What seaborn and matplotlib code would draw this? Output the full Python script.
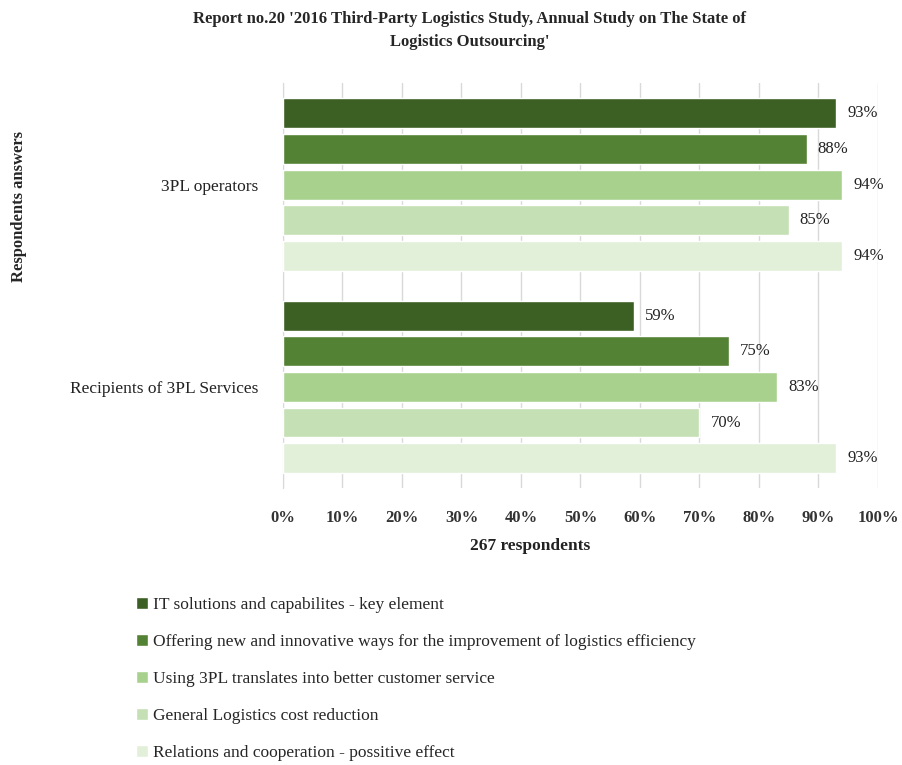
import pandas as pd
import seaborn as sns
import matplotlib.pyplot as plt

groups = ["3PL operators", "Recipients of 3PL Services"]
answers = [
    "IT solutions and capabilites - key element",
    "Offering new and innovative ways for the improvement of logistics efficiency",
    "Using 3PL translates into better customer service",
    "General Logistics cost reduction",
    "Relations and cooperation - possitive effect",
]
operators_pct = [93, 88, 94, 85, 94]
recipients_pct = [59, 75, 83, 70, 93]
colors = ["#3c5f24", "#548235", "#a9d18e", "#c5e0b4", "#e2f0d9"]
xticks = list(range(0, 101, 10))

df = pd.DataFrame({
    "Group": [groups[0]] * 5 + [groups[1]] * 5,
    "Answer": answers * 2,
    "Percent": operators_pct + recipients_pct,
})

sns.set_style("white")
plt.rcParams["font.family"] = ["Liberation Serif", "DejaVu Serif"]

fig = plt.figure(figsize=(9.02, 7.65), dpi=100)
ax = fig.add_axes([0.3137, 0.362, 0.6596, 0.529])

sns.barplot(
    data=df, x="Percent", y="Group", hue="Answer", order=groups,
    hue_order=answers, palette=colors, orient="h", width=0.88, gap=0.16,
    saturation=1, ax=ax, zorder=3,
)

for cont in ax.containers:
    ax.bar_label(cont, fmt="%g%%", padding=8, fontsize=12, color="#222222")

ax.set_xlim(0, 100)
ax.set_ylim(1.5, -0.5)
ax.set_xticks(xticks)
ax.set_xticklabels([f"{t}%" for t in xticks], fontsize=12, fontweight="bold", color="#333333")
ax.tick_params(axis="x", length=6, color="#d0d0d0", pad=10)
ax.tick_params(axis="y", length=0, pad=18, labelsize=12.5, labelcolor="#222222")
ax.grid(axis="x", color="#d9d9d9", linewidth=1, zorder=0)
ax.set_xlabel("")
ax.set_ylabel("")
for side in ["top", "right", "bottom"]:
    ax.spines[side].set_visible(False)
ax.spines["left"].set_color("#d9d9d9")

handles, labels = ax.get_legend_handles_labels()
ax.legend_.remove()
fig.legend(
    handles, labels, loc="upper left", bbox_to_anchor=(0.143, 0.229),
    frameon=False, fontsize=12.5, labelspacing=1.2, handlelength=0.7,
    handleheight=0.7, handletextpad=0.3, borderaxespad=0,
)

fig.text(0.521, 0.96, "Report no.20 '2016 Third-Party Logistics Study, Annual Study on The State of\nLogistics Outsourcing'",
         ha="center", va="center", fontsize=12, fontweight="bold", linespacing=1.6)
fig.text(0.588, 0.286, "267 respondents", ha="center", va="center", fontsize=12.5, fontweight="bold", color="#222222")
fig.text(0.021, 0.73, "Respondents answers", rotation=90, ha="center", va="center",
         fontsize=12, fontweight="bold")

fig.savefig("out.png", dpi=100)
